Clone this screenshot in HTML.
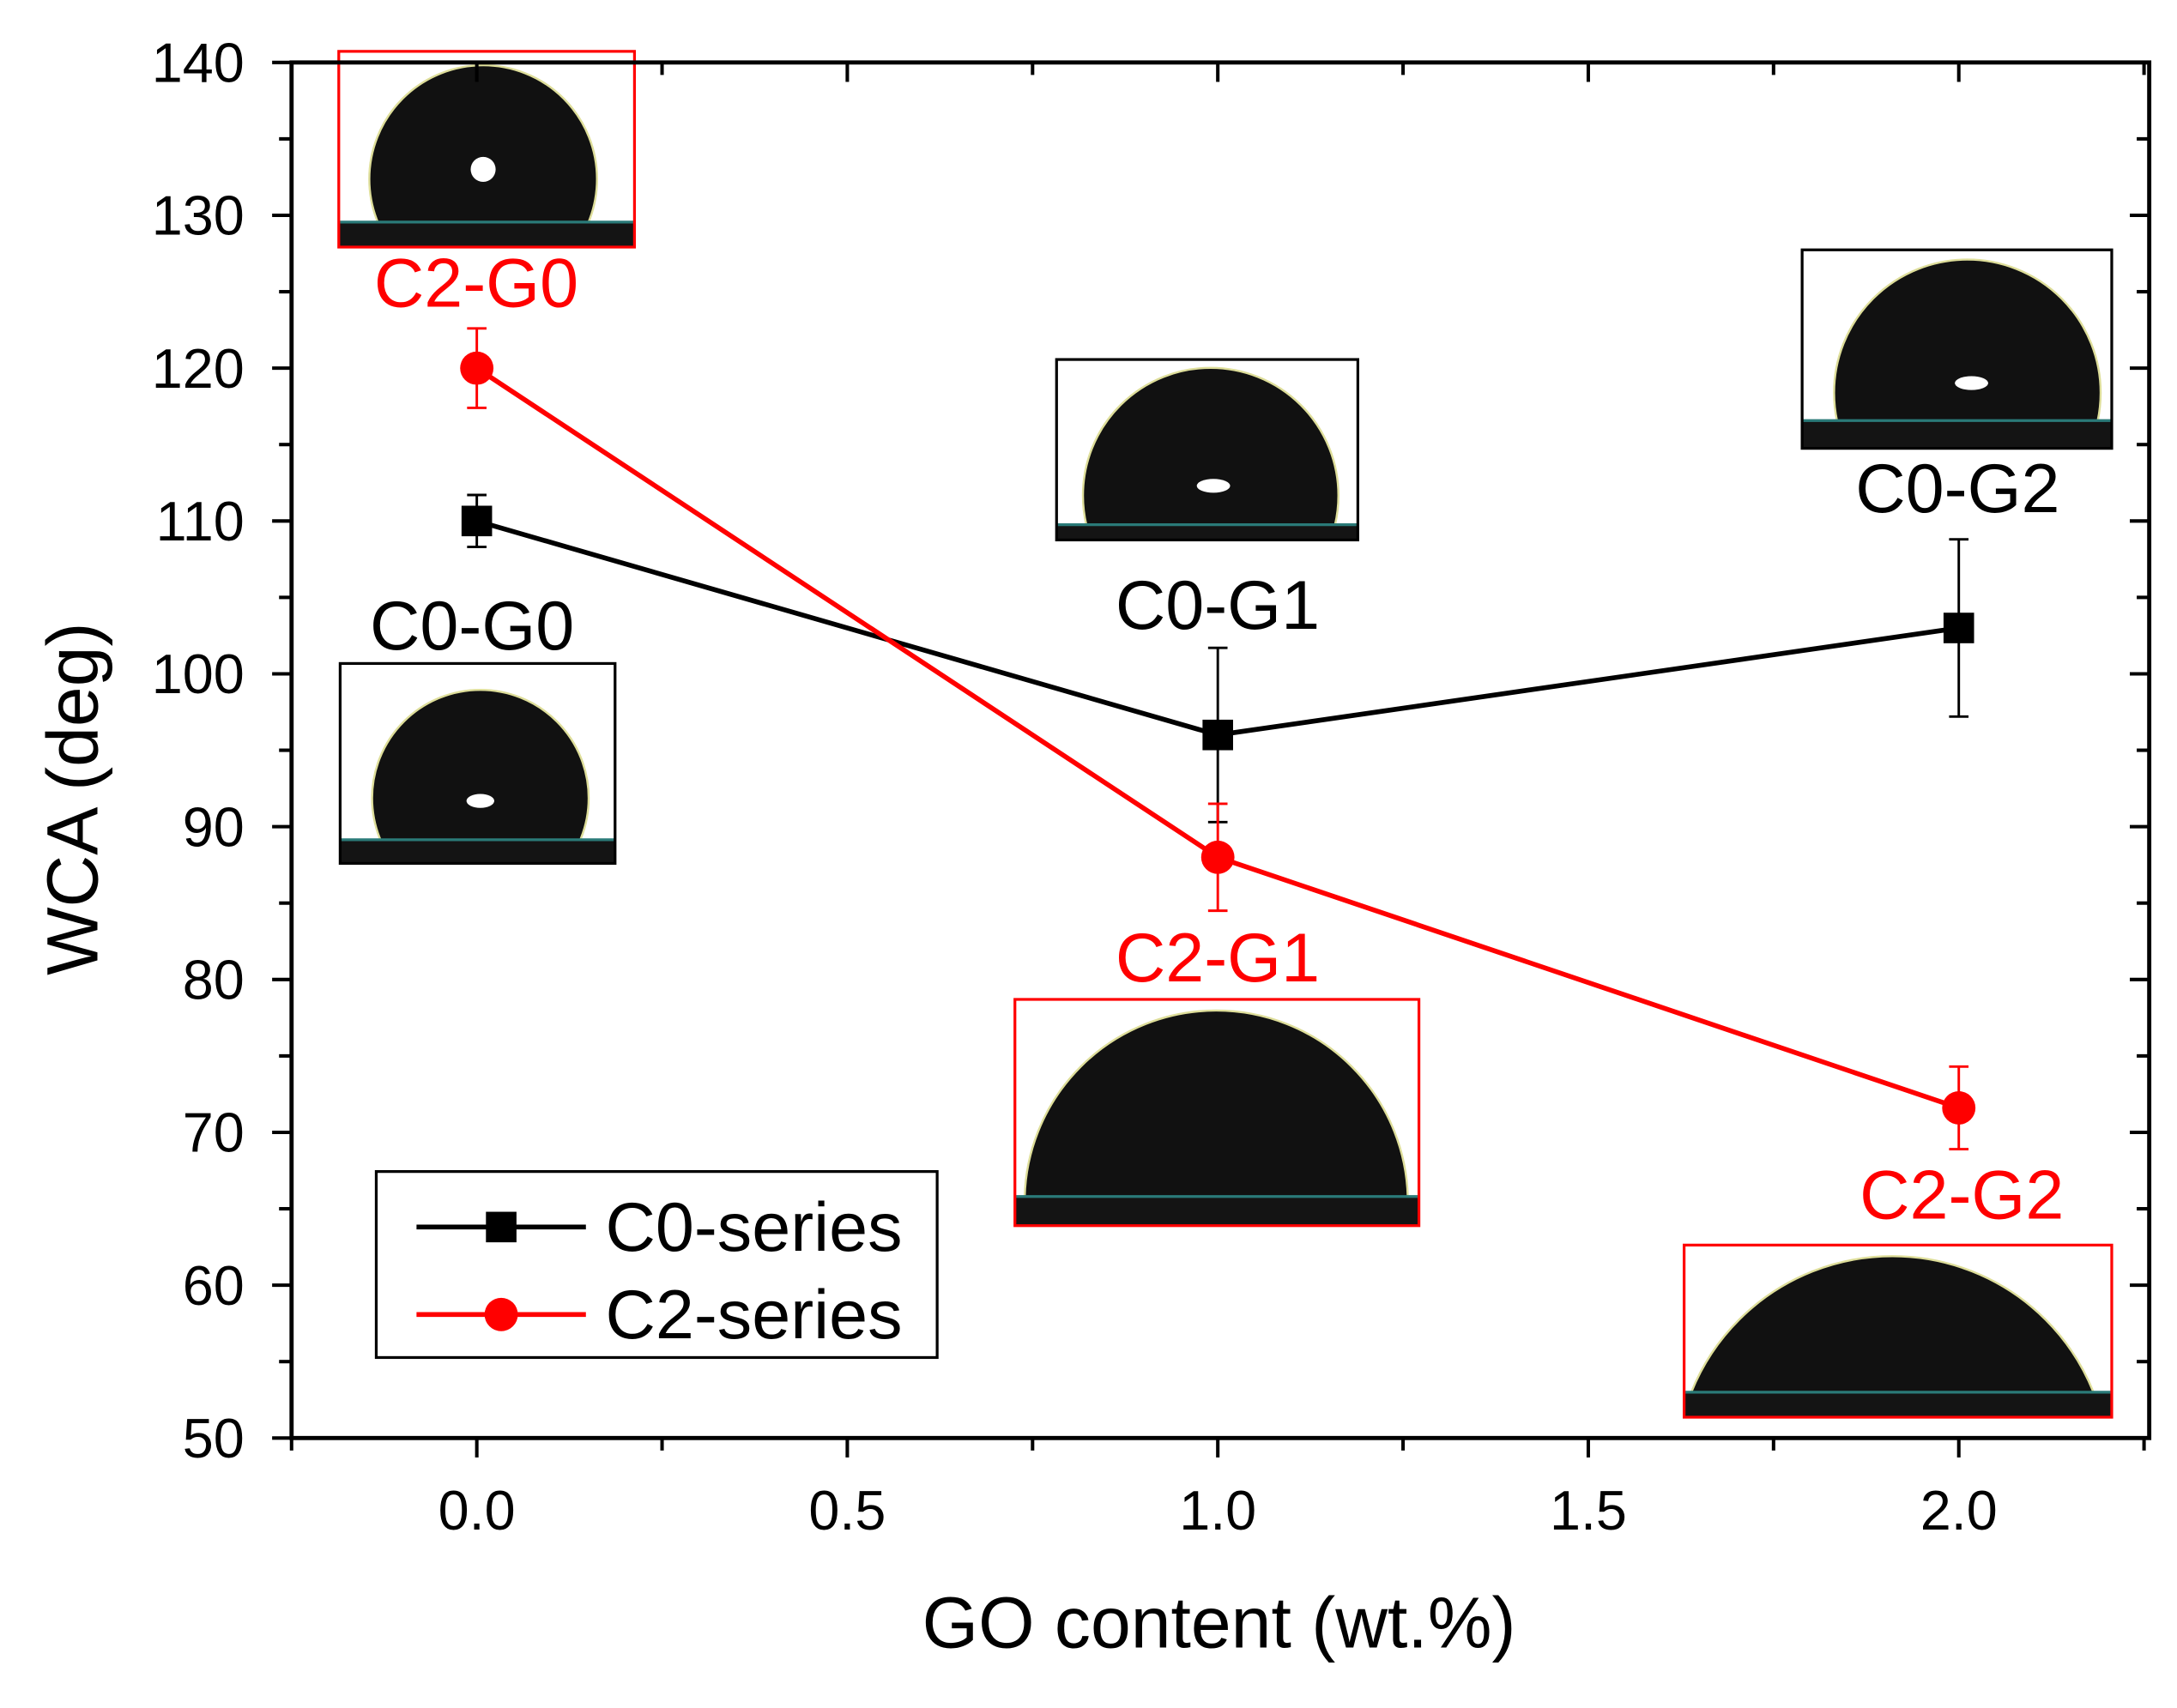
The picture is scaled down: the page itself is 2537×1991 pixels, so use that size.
<!DOCTYPE html>
<html><head><meta charset="utf-8"><style>
html,body{margin:0;padding:0;background:#fff;}
svg{display:block;font-family:"Liberation Sans",Arial,sans-serif;}
</style></head><body>
<svg id="chart" width="2537" height="1991" viewBox="0 0 1568 1230.5" preserveAspectRatio="none" xmlns="http://www.w3.org/2000/svg">
<rect x="0" y="0" width="1568" height="1231" fill="#fff"/>
<g id="insets"></g>
<g id="axes"></g>
<g id="series"></g>
<g id="labels"></g>
<g id="legend"></g>
</svg>
<script>
const xValues = [0, 1, 2];
const c0Values = [110, 96, 103];
const c0Errors = [1.7, 5.7, 5.8];
const c2Values = [120, 88, 71.6];
const c2Errors = [2.6, 3.5, 2.7];
const xTicks = [0, 0.5, 1, 1.5, 2];
const xTickLabels = ["0.0", "0.5", "1.0", "1.5", "2.0"];
const yTicks = [50, 60, 70, 80, 90, 100, 110, 120, 130, 140];

const NS = "http://www.w3.org/2000/svg";
const L = 210, R = 1548, T = 45, B = 1036;
const xMin = -0.25, xMax = 2.257, yMin = 50, yMax = 140;
function sx(v){ return L + (v - xMin) / (xMax - xMin) * (R - L); }
function sy(v){ return B - (v - yMin) / (yMax - yMin) * (B - T); }
function mk(tag, attrs, parent){
  const e = document.createElementNS(NS, tag);
  for (const k in attrs) e.setAttribute(k, attrs[k]);
  parent.appendChild(e);
  return e;
}
const axes = document.getElementById('axes');
const frame = mk('rect', {x:L, y:T, width:R-L, height:B-T, fill:'none', stroke:'#000', 'stroke-width':3}, axes);


for (let i = 0; i < xTicks.length; i++){
  const x = sx(xTicks[i]);
  const t = mk('line', {x1:x, y1:B, x2:x, y2:B+14, stroke:'#000', 'stroke-width':2.5}, axes);
  
  
  mk('line', {x1:x, y1:T, x2:x, y2:T+14, stroke:'#000', 'stroke-width':2.5}, axes);
  const lb = mk('text', {x:x, y:B+66, 'font-size':40, 'text-anchor':'middle', fill:'#000'}, axes);
  lb.textContent = xTickLabels[i];
  
  
}
for (let v = -0.25; v <= 2.26; v += 0.5){
  const x = sx(v);
  mk('line', {x1:x, y1:B, x2:x, y2:B+9, stroke:'#000', 'stroke-width':2.5}, axes);
  mk('line', {x1:x, y1:T, x2:x, y2:T+9, stroke:'#000', 'stroke-width':2.5}, axes);
}
for (let i = 0; i < yTicks.length; i++){
  const y = sy(yTicks[i]);
  const t = mk('line', {x1:L-14, y1:y, x2:L, y2:y, stroke:'#000', 'stroke-width':2.5}, axes);
  
  
  mk('line', {x1:R-14, y1:y, x2:R, y2:y, stroke:'#000', 'stroke-width':2.5}, axes);
  const lb = mk('text', {x:L-34, y:y+14, 'font-size':40, 'text-anchor':'end', fill:'#000'}, axes);
  lb.textContent = yTicks[i];
  
  
  if (i < yTicks.length - 1){
    const ym = sy(yTicks[i] + 5);
    mk('line', {x1:L-9, y1:ym, x2:L, y2:ym, stroke:'#000', 'stroke-width':2.5}, axes);
    mk('line', {x1:R-9, y1:ym, x2:R, y2:ym, stroke:'#000', 'stroke-width':2.5}, axes);
  }
}
const xt = mk('text', {x:878, y:1187, 'font-size':52, 'text-anchor':'middle', fill:'#000'}, axes);
xt.textContent = 'GO content (wt.%)';


const yt = mk('text', {x:0, y:0, 'font-size':52, 'text-anchor':'middle', fill:'#000', transform:'translate(70,'+((T+B)/2+35)+') rotate(-90)'}, axes);
yt.textContent = 'WCA (deg)';



const insets = document.getElementById('insets');
const insetSpecs = [
  {name:'inset-c2-g0', x:244,y:37,w:213,h:141,c:'#f00',base:160,cx:348,r:82,top:47,spot:[348,122,18,18]},
  {name:'inset-c0-g0', x:245,y:478,w:198,h:144,c:'#000',base:605,cx:346,r:78,top:497,spot:[346,577,20,10]},
  {name:'inset-c0-g1', x:761,y:259,w:217,h:130,c:'#000',base:378,cx:872,r:92,top:265,spot:[874,350,24,10]},
  {name:'inset-c0-g2', x:1298,y:180,w:223,h:143,c:'#000',base:303,cx:1417,r:96,top:187,spot:[1420,276,24,10]},
  {name:'inset-c2-g1', x:731,y:720,w:291,h:163,c:'#f00',base:862,cx:876,r:138,top:728,spot:null},
  {name:'inset-c2-g2', x:1213,y:897,w:308,h:124,c:'#f00',base:1003,cx:1363,r:156,top:905,spot:null}
];
insetSpecs.forEach(function(s, i){
  const g = mk('g', {}, insets);
  
  
  const cp = mk('clipPath', {id:'cp'+i}, g);
  mk('rect', {x:s.x, y:s.y, width:s.w, height:s.h}, cp);
  const inner = mk('g', {'clip-path':'url(#cp'+i+')'}, g);
  mk('rect', {x:s.x, y:s.y, width:s.w, height:s.h, fill:'#fff'}, inner);
  const cpd = mk('clipPath', {id:'cpd'+i}, g);
  mk('rect', {x:s.x, y:s.y, width:s.w, height:s.base - s.y}, cpd);
  mk('circle', {cx:s.cx, cy:s.top + s.r, r:s.r, fill:'#111', stroke:'#dede9a', 'stroke-width':1.5, 'clip-path':'url(#cpd'+i+')'}, inner);
  mk('rect', {x:s.x, y:s.base, width:s.w, height:s.y + s.h - s.base, fill:'#141414'}, inner);
  mk('line', {x1:s.x, y1:s.base, x2:s.x+s.w, y2:s.base, stroke:'#2a7a78', 'stroke-width':2}, inner);
  if (s.spot) mk('ellipse', {cx:s.spot[0], cy:s.spot[1], rx:s.spot[2]/2, ry:s.spot[3]/2, fill:'#fff'}, inner);
  mk('rect', {x:s.x, y:s.y, width:s.w, height:s.h, fill:'none', stroke:s.c, 'stroke-width':2}, g);
});

const series = document.getElementById('series');
function drawSeries(vals, errs, color, name, marker){
  const g = mk('g', {}, series);
  
  
  const pts = vals.map(function(v, i){ return sx(xValues[i]) + ',' + sy(v); }).join(' ');
  const pl = mk('polyline', {points:pts, fill:'none', stroke:color, 'stroke-width':3.5}, g);
  
  
  for (let i = 0; i < vals.length; i++){
    const x = sx(xValues[i]), y1 = sy(vals[i] + errs[i]), y2 = sy(vals[i] - errs[i]);
    const eb = mk('path', {d:'M'+x+' '+y1+'V'+y2+'M'+(x-7)+' '+y1+'H'+(x+7)+'M'+(x-7)+' '+y2+'H'+(x+7), stroke:color, 'stroke-width':1.8, fill:'none'}, g);
    
    
    let m;
    if (marker === 'square') m = mk('rect', {x:x-11, y:sy(vals[i])-11, width:22, height:22, fill:color}, g);
    else m = mk('circle', {cx:x, cy:sy(vals[i]), r:12, fill:color}, g);
    
    
  }
}
drawSeries(c0Values, c0Errors, '#000', 'c0-series', 'square');
drawSeries(c2Values, c2Errors, '#f00', 'c2-series', 'circle');

const labels = document.getElementById('labels');
[['C2-G0',343,221,'#f00'],['C0-G0',340,468,'#000'],['C0-G1',877,453,'#000'],['C0-G2',1410,369,'#000'],['C2-G1',877,707,'#f00'],['C2-G2',1413,878,'#f00']].forEach(function(l){
  const t = mk('text', {x:l[1], y:l[2], 'font-size':50, 'text-anchor':'middle', fill:l[3]}, labels);
  t.textContent = l[0];
  
  
});

const legend = document.getElementById('legend');
const lbox = mk('rect', {x:271, y:844, width:404, height:134, fill:'#fff', stroke:'#000', 'stroke-width':2}, legend);


[['C0-series','#000','square',884],['C2-series','#f00','circle',947]].forEach(function(e){
  const g = mk('g', {}, legend);
  
  
  mk('line', {x1:300, y1:e[3], x2:422, y2:e[3], stroke:e[1], 'stroke-width':3.5}, g);
  if (e[2] === 'square') mk('rect', {x:350, y:e[3]-11, width:22, height:22, fill:e[1]}, g);
  else mk('circle', {cx:361, cy:e[3], r:12, fill:e[1]}, g);
  const t = mk('text', {x:436, y:e[3]+17, 'font-size':50, fill:'#000'}, g);
  t.textContent = e[0];
});
</script>
</body></html>
